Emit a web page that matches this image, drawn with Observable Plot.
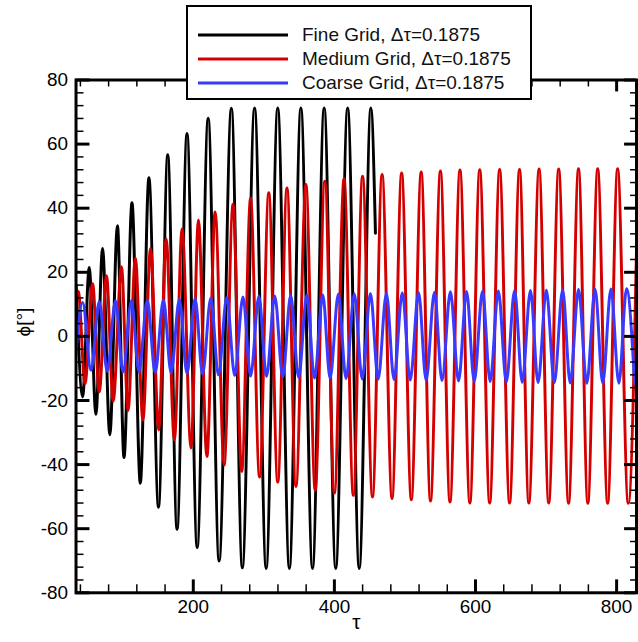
<!DOCTYPE html>
<html>
<head>
<meta charset="utf-8">
<script src="https://cdn.jsdelivr.net/npm/d3@7"></script>
<script src="https://cdn.jsdelivr.net/npm/@observablehq/plot@0.6"></script>
<style>
  html, body { margin: 0; padding: 0; background: white; overflow: hidden; }
  body { position: relative; width: 638px; height: 642px; font-family: "Liberation Sans", Arial, sans-serif; }
  #legend { position: absolute; left: 186px; top: 5px; width: 346px; height: 95px; box-sizing: border-box;
            border: 2.5px solid black; background: white; }
  .row { position: absolute; left: 0; height: 24px; line-height: 24px; font-size: 19px; color: #111; white-space: nowrap; }
  .row svg { position: absolute; left: 9px; top: 0; }
  .row span { position: absolute; left: 114px; top: 0; }
</style>
</head>
<body>
<div id="chart"></div>
<div id="legend"></div>
<script>
// ---- Data (extrema) ----
const seriesNames = ["Fine Grid, \u0394\u03c4=0.1875", "Medium Grid, \u0394\u03c4=0.1875", "Coarse Grid, \u0394\u03c4=0.1875"];
const seriesColors = ["#000000", "#d40000", "#3a3aff"];

const fineTau = [34, 43.2, 52.5, 62, 71.4, 81.7, 92.5, 101.8, 113.1, 124.9, 137.1, 150.7, 163.8, 177, 191.1, 205.5, 221.1, 236.6, 254, 269.5, 286.9, 303.3, 319.7, 336.2, 352.5, 369, 385.5, 401.9, 418.8, 435.2, 451.7, 458.2];
const finePhi = [16, -18.8, 21.5, -24.3, 27.4, -30.7, 34.5, -37.8, 41.7, -45.8, 49.5, -53.3, 56.7, -60.2, 63.3, -65.9, 68.1, -70.1, 71.2, -72.2, 71.3, -72.4, 71.3, -72.4, 71.3, -72.4, 71.3, -72.4, 71.3, -72.4, 71.3, 32.2];

const mediumTau = [34, 37, 46.5, 57.3, 66.7, 77, 86.4, 98.2, 107.5, 117.9, 128.6, 139.4, 151.1, 161.5, 173.2, 184.1, 196.8, 207.3, 219.3, 231, 243.7, 256.3, 268.6, 281.2, 293.9, 307, 319.7, 332.8, 345.5, 359.6, 372.8, 386.4, 400, 413.7, 426.8, 439.9, 454, 467.6, 481.7, 495.3, 509, 523, 536.2, 550.3, 563.8, 578, 592, 606, 620.1, 634.2, 648.3, 662.4, 675.6, 690.1, 703.8, 717.9, 731.9, 746, 759.2, 773.2, 787.3, 801.4, 816.5, 830.5];
const mediumPhi = [13, 14, -14.7, 16.4, -17.3, 18.9, -20.2, 21.7, -23.1, 24.4, -26.1, 27.4, -29.2, 30.5, -32.3, 33.6, -34.8, 36.3, -37.5, 38.8, -40.1, 41.2, -42.1, 43.1, -43.9, 44.8, -45.5, 46.3, -46.8, 47.4, -48.0, 48.4, -48.9, 49.3, -49.6, 50.0, -50.1, 50.5, -50.6, 51.0, -51.0, 51.3, -51.4, 51.6, -51.7, 51.9, -52, 52, -52, 52.1, -52, 52.1, -52, 52.2, -52, 52.2, -52.1, 52.3, -52.1, 52.3, -52.1, 52.3, -52.1, 52.3];

const coarseTau = [31.7, 43.2, 55, 66.7, 78, 89.7, 100.4, 112.3, 123, 134.8, 146, 157.7, 168.6, 180.3, 191.1, 202.6, 213.1, 224.9, 235.6, 247.5, 258.7, 270.4, 281.2, 293, 303.8, 315.5, 326.8, 338, 349.3, 361, 371.8, 383.5, 393.9, 405.6, 416.5, 428.2, 439.4, 451.1, 462, 473.7, 484.5, 496.2, 507.5, 519.3, 530, 541.8, 552.5, 564.4, 576, 587.3, 598.2, 609.9, 620.7, 632.4, 643.7, 655.4, 666.2, 677.9, 688.7, 700.4, 711.7, 723.5, 734.2, 746, 757.7, 769.5, 780.3, 792, 803.2, 814.1, 825.5];
const coarsePhi = [-10.5, 10.6, -10.6, 10.9, -10.9, 11.1, -11.1, 11.1, -11.1, 11.3, -11.3, 11.4, -11.4, 11.6, -11.6, 11.8, -11.8, 12.0, -12.0, 12.1, -12.2, 12.3, -12.4, 12.5, -12.5, 12.6, -12.7, 12.8, -12.8, 12.9, -13.0, 13.0, -13.1, 13.2, -13.2, 13.3, -13.3, 13.4, -13.4, 13.5, -13.5, 13.6, -13.6, 13.7, -13.7, 13.8, -13.8, 13.9, -13.9, 14.0, -14.0, 14.1, -14.1, 14.2, -14.2, 14.3, -14.3, 14.3, -14.4, 14.4, -14.4, 14.5, -14.5, 14.6, -14.6, 14.7, -14.6, 14.8, -14.6, 14.9, -14.7];

const xDomain = [33.8, 828.2];
const yDomain = [-80, 80];
const xMajorTicks = [200, 400, 600, 800];
const xMinorTicks = [40, 80, 120, 160, 240, 280, 320, 360, 440, 480, 520, 560, 640, 680, 720, 760];
const yMajorTicks = [-80, -60, -40, -20, 0, 20, 40, 60, 80];
const yMinorTicks = [-76, -72, -68, -64, -56, -52, -48, -44, -36, -32, -28, -24, -16, -12, -8, -4, 4, 8, 12, 16, 24, 28, 32, 36, 44, 48, 52, 56, 64, 68, 72, 76];
const xLabel = "\u03c4";
const yLabel = "\u03d5[\u00b0]";

// ---- Build tables ----
const toRows = (ts, vs) => ts.map((t, i) => ({t, v: vs[i]}));
const series = [toRows(fineTau, finePhi), toRows(mediumTau, mediumPhi), toRows(coarseTau, coarsePhi)];

const font = '"Liberation Sans", Arial, sans-serif';
const W = 642, H = 642, ML = 76, MR = 2, MT = 80, MB = 46;
const frameW = W - ML - MR, frameH = H - MT - MB;

const lineMarks = series.map((rows, i) =>
  Plot.line(rows, {x: "t", y: "v", stroke: seriesColors[i], strokeWidth: 3, curve: "monotone-x", clip: true})
);

// inward ticks built with tickX / tickY and frame insets
const ticksBottom = (v, len, w) => Plot.tickX(v, {x: d => d, insetTop: frameH - len, stroke: "black", strokeWidth: w});
const ticksTop = (v, len, w) => Plot.tickX(v, {x: d => d, insetBottom: frameH - len, stroke: "black", strokeWidth: w});
const ticksLeft = (v, len, w) => Plot.tickY(v, {y: d => d, insetRight: frameW - len, stroke: "black", strokeWidth: w});
const ticksRight = (v, len, w) => Plot.tickY(v, {y: d => d, insetLeft: frameW - len, stroke: "black", strokeWidth: w});

const chart = Plot.plot({
  width: W,
  height: H,
  marginLeft: ML,
  marginRight: MR,
  marginTop: MT,
  marginBottom: MB,
  x: {domain: xDomain, axis: null},
  y: {domain: yDomain, axis: null},
  style: {fontFamily: font, fontSize: "19px", color: "black", background: "white", overflow: "visible"},
  marks: [
    ...lineMarks,
    Plot.frame({stroke: "black", strokeWidth: 3}),
    ticksBottom(xMajorTicks, 13, 3),
    ticksBottom(xMinorTicks, 8, 1.5),
    ticksTop(xMajorTicks, 12, 3),
    ticksTop(xMinorTicks, 7, 1.5),
    ticksLeft(yMajorTicks, 14, 3),
    ticksLeft(yMinorTicks, 8, 1.5),
    ticksRight(yMajorTicks, 12, 3),
    ticksRight(yMinorTicks, 6, 1.5),
    // tick labels
    Plot.text(xMajorTicks, {x: d => d, text: d => String(d), frameAnchor: "bottom", lineAnchor: "top", dy: 7, fontSize: 19}),
    Plot.text(yMajorTicks, {y: d => d, text: d => String(d), frameAnchor: "left", textAnchor: "end", dx: -8, fontSize: 19}),
    // axis titles
    Plot.text([xLabel], {text: d => d, frameAnchor: "bottom", dy: 36, fontSize: 21}),
    Plot.text([yLabel], {text: d => d, frameAnchor: "left", dx: -52, rotate: -90, fontSize: 19})
  ]
});
document.getElementById("chart").appendChild(chart);

// ---- Legend ----
const legend = document.getElementById("legend");
const rowCenters = [27.7, 52, 76];
seriesNames.forEach((name, i) => {
  const row = document.createElement("div");
  row.className = "row";
  row.style.top = (rowCenters[i] - 12) + "px";
  row.innerHTML = `<svg width="92" height="24"><line x1="1" x2="91" y1="12" y2="12" stroke="${seriesColors[i]}" stroke-width="3"/></svg><span>${name}</span>`;
  legend.appendChild(row);
});
</script>
</body>
</html>
